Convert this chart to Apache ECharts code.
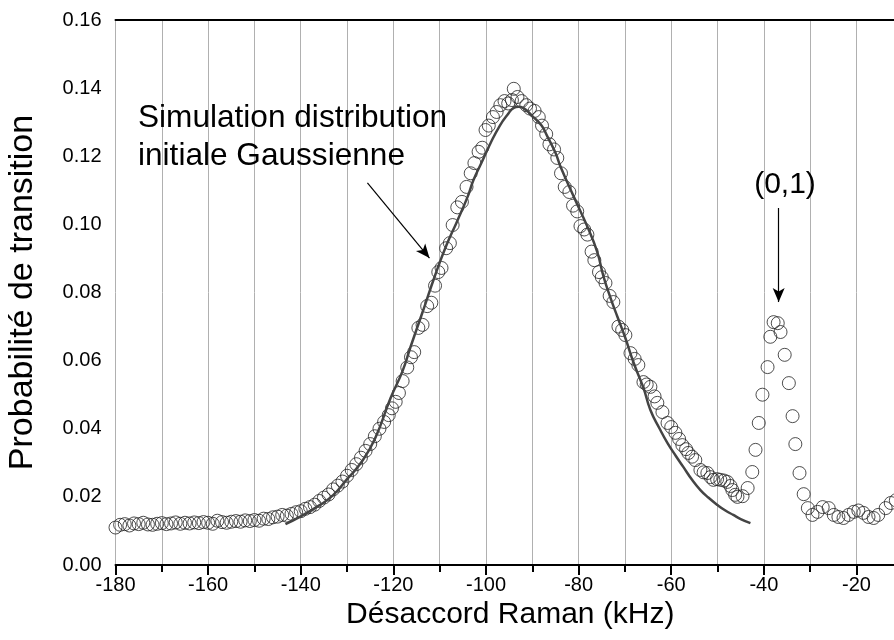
<!DOCTYPE html>
<html><head><meta charset="utf-8">
<script src="https://cdn.jsdelivr.net/npm/echarts@6/dist/echarts.min.js"></script>
<style>html,body{margin:0;padding:0;background:#fff;overflow:hidden}#c{width:894px;height:640px}</style>
</head><body><div id="c"></div>
<script>
// Experimental points: Raman detuning (kHz) and transition probability
const expX = [-180,-179,-178,-177,-176,-175,-174,-173,-172,-171,-170,-169,-168,-167,-166,-165,-164,-163,-162,-161,-160,-159,-158,-157,-156,-155,-154,-153,-152,-151,-150,-149,-148,-147,-146,-145,-144,-143,-142,-141,-140,-139,-138,-137,-136,-135,-134,-133,-132,-131,-130,-129,-128,-127,-126,-125,-124,-123,-122,-121,
-120.3,-119.5,-118.8,-118.0,-117.0,-116.2,-115.5,-114.6,-113.7,-112.7,-111.8,-111.0,-110.3,-109.6,-108.6,-107.8,-107.2,-106.2,-105.2,-104.2,-103.3,-102.5,-101.6,-100.8,-100.1,-99.4,-98.5,-97.7,-96.9,-96.0,-95.2,-94.4,-94.0,-93.2,-92.3,-91.3,-90.5,-89.5,-88.6,-87.9,-87.0,-86.3,-85.3,-84.6,-83.8,-83.0,-82.0,-81.2,-80.3,-79.6,-78.8,-78.1,-77.2,-76.6,-75.6,-75.0,
-74.2,-73.3,-72.5,-71.4,-70.6,-69.9,-68.8,-67.9,-67.1,-66.0,-65.3,-64.5,-63.6,-63.0,-61.9,-60.8,-60.0,-59.1,-58.3,-57.6,-56.8,-56.3,-55.5,-54.8,-53.7,-53.0,-52.2,-51.5,-50.9,-50.1,-49.4,-48.6,-47.9,-47.2,-46.8,-46.2,-45.7,-44.6,-43.5,-42.5,-41.8,-41.1,-40.3,-39.2,-38.6,-37.9,-37.0,-36.4,-35.5,-34.6,-33.8,-33.2,-32.3,-31.4,-30.5,-29.5,-28.4,-27.3,-26.0,-24.9,-23.9,-22.8,-21.7,-20.6,-19.6,-18.5,-17.4,-16.3,-15.3,-13.7,-12.6,-11.5];
const expY = [0.0110,0.0118,0.0120,0.0116,0.0122,0.0120,0.0124,0.0119,0.0118,0.0121,0.0123,0.0120,0.0122,0.0125,0.0121,0.0124,0.0122,0.0125,0.0123,0.0126,0.0124,0.0121,0.0130,0.0126,0.0124,0.0127,0.0129,0.0127,0.0131,0.0129,0.0132,0.0130,0.0136,0.0135,0.0140,0.0142,0.0147,0.0145,0.0150,0.0155,0.0158,0.0165,0.0170,0.0177,0.0188,0.0198,0.0207,0.0222,0.0233,0.0245,0.0262,0.0279,0.0296,0.0315,0.0335,0.0355,0.0378,0.0400,0.0420,0.0440,
0.0460,0.0479,0.0505,0.0540,0.0580,0.0610,0.0625,0.0696,0.0705,0.0760,0.0770,0.0820,0.0860,0.0872,0.0930,0.0945,0.0998,0.1050,0.1066,0.1110,0.1150,0.1180,0.1213,0.1225,0.1277,0.1290,0.1315,0.1330,0.1350,0.1362,0.1355,0.1365,0.1398,0.1374,0.1362,0.1350,0.1340,0.1333,0.1315,0.1290,0.1265,0.1235,0.1220,0.1195,0.1150,0.1110,0.1095,0.1055,0.1038,0.0995,0.0985,0.0970,0.0920,0.0895,0.0860,0.0845,
0.0828,0.0790,0.0772,0.0700,0.0690,0.0675,0.0622,0.0605,0.0587,0.0537,0.0530,0.0523,0.0495,0.0476,0.0449,0.0417,0.0405,0.0388,0.0370,0.0352,0.0340,0.0329,0.0318,0.0308,0.0279,0.0272,0.0270,0.0258,0.0250,0.0252,0.0250,0.0248,0.0244,0.0232,0.0220,0.0206,0.0200,0.0202,0.0226,0.0273,0.0338,0.0417,0.0500,0.0581,0.0670,0.0713,0.0710,0.0684,0.0617,0.0534,0.0437,0.0355,0.0270,0.0208,0.0167,0.0147,0.0156,0.0170,0.0167,0.0147,0.0141,0.0138,0.0147,0.0156,0.0160,0.0153,0.0141,0.0138,0.0147,0.0167,0.0182,0.0190];

// Simulated curve (initial Gaussian distribution)
const simX = [-143.3,-140,-136,-133,-130,-127,-124,-120.6,-118,-116.3,-113.5,-111,-108.5,-106.2,-104,-102.7,-101,-99,-97,-95.4,-94,-93,-92,-90,-88,-86.7,-85,-83.9,-81,-78,-76,-74.6,-73,-71.6,-70,-68.1,-66,-64.5,-62.5,-60.8,-59,-57.4,-55.5,-53.7,-52,-50,-48.3,-46.6,-45,-42.9];
const simY = [0.0120,0.0143,0.0175,0.0205,0.0252,0.0300,0.0370,0.0490,0.0570,0.0640,0.0750,0.0850,0.0940,0.1010,0.1080,0.1130,0.1180,0.1239,0.1290,0.1321,0.1342,0.1345,0.1342,0.1318,0.1290,0.1257,0.1210,0.1169,0.1080,0.0990,0.0920,0.0846,0.0780,0.0728,0.0670,0.0593,0.0520,0.0455,0.0400,0.0358,0.0320,0.0288,0.0250,0.0220,0.0198,0.0176,0.0160,0.0147,0.0135,0.0123];

const yTicks = [0, 0.16, 0.02];      // min, max, step
const xTicks = [-180, 0, 20];        // min, max, step (plot continues past the right edge)
const annoText1 = 'Simulation distribution\ninitiale Gaussienne';
const annoText2 = '(0,1)';
const arrow1 = [[-125.6, 0.1122], [-112.2, 0.0901]];
const arrow2 = [[-36.8, 0.1048], [-36.8, 0.0772]];

const FONT = 'Liberation Sans, Arial, sans-serif';
const chart = echarts.init(document.getElementById('c'), null, {renderer: 'canvas'});
const expData = expX.map((x, i) => [x, expY[i]]);
const simData = simX.map((x, i) => [x, simY[i]]);

chart.setOption({
  animation: false,
  backgroundColor: '#fff',
  grid: {left: 115.5, width: 833.6, top: 20, height: 545, containLabel: false, outerBoundsMode: 'none'},
  xAxis: [{
    type: 'value', min: xTicks[0], max: xTicks[1], interval: xTicks[2],
    name: 'Désaccord Raman (kHz)', nameLocation: 'middle', nameGap: 30,
    nameTextStyle: {fontFamily: FONT, fontSize: 30, color: '#000', padding: [0, 44, 0, 0]},
    axisLine: {onZero: false, lineStyle: {color: '#000', width: 2}},
    axisTick: {show: true, inside: false, length: 10, lineStyle: {color: '#000', width: 2}},
    minorTick: {show: true, splitNumber: 2, length: 7, lineStyle: {color: '#000', width: 2}},
    axisLabel: {fontFamily: FONT, fontSize: 20, color: '#000', margin: 10, showMaxLabel: false},
    splitLine: {show: true, lineStyle: {color: '#b0b0b0', width: 1}},
    minorSplitLine: {show: true, lineStyle: {color: '#b0b0b0', width: 1}}
  }, {
    type: 'value', position: 'top', min: xTicks[0], max: xTicks[1], interval: xTicks[2],
    axisLine: {show: true, onZero: false, lineStyle: {color: '#000', width: 2}},
    axisTick: {show: false}, axisLabel: {show: false}, splitLine: {show: false}
  }],
  yAxis: {
    type: 'value', min: yTicks[0], max: yTicks[1], interval: yTicks[2],
    name: 'Probabilité de transition', nameLocation: 'middle', nameGap: 76,
    nameTextStyle: {fontFamily: FONT, fontSize: 34, color: '#000'},
    axisLine: {show: true, lineStyle: {color: '#000', width: 2}},
    axisTick: {show: true, inside: false, length: 10, lineStyle: {color: '#000', width: 2}},
    minorTick: {show: true, splitNumber: 2, length: 6, lineStyle: {color: '#000', width: 2}},
    axisLabel: {fontFamily: FONT, fontSize: 20, color: '#000', margin: 14, formatter: v => v.toFixed(2)},
    splitLine: {show: false}
  },
  series: [{
    type: 'scatter', name: 'exp', data: expData, symbol: 'circle', symbolSize: 13,
    itemStyle: {color: 'rgba(255,255,255,0)', borderColor: '#222', borderWidth: 1}, z: 2, silent: true
  }, {
    type: 'line', name: 'sim', data: simData, smooth: true, showSymbol: false, symbol: 'none',
    lineStyle: {color: '#444', width: 2.5}, z: 3, silent: true,
    markLine: {
      silent: true, symbol: ['none', 'arrow'], symbolSize: [9, 14],
      label: {show: false},
      lineStyle: {color: '#000', width: 1.2, type: 'solid'},
      data: [
        [{coord: arrow1[0]}, {coord: arrow1[1]}],
        [{coord: arrow2[0]}, {coord: arrow2[1]}]
      ]
    }
  }],
  graphic: [{
    type: 'text', left: 138, top: 99, z: 10,
    style: {text: annoText1, font: '31.6px ' + FONT, fill: '#000', lineHeight: 38}
  }, {
    type: 'text', x: 785, y: 185, z: 10,
    style: {text: annoText2, font: '30px ' + FONT, fill: '#000', align: 'center', verticalAlign: 'middle'}
  }]
});
</script></body></html>
